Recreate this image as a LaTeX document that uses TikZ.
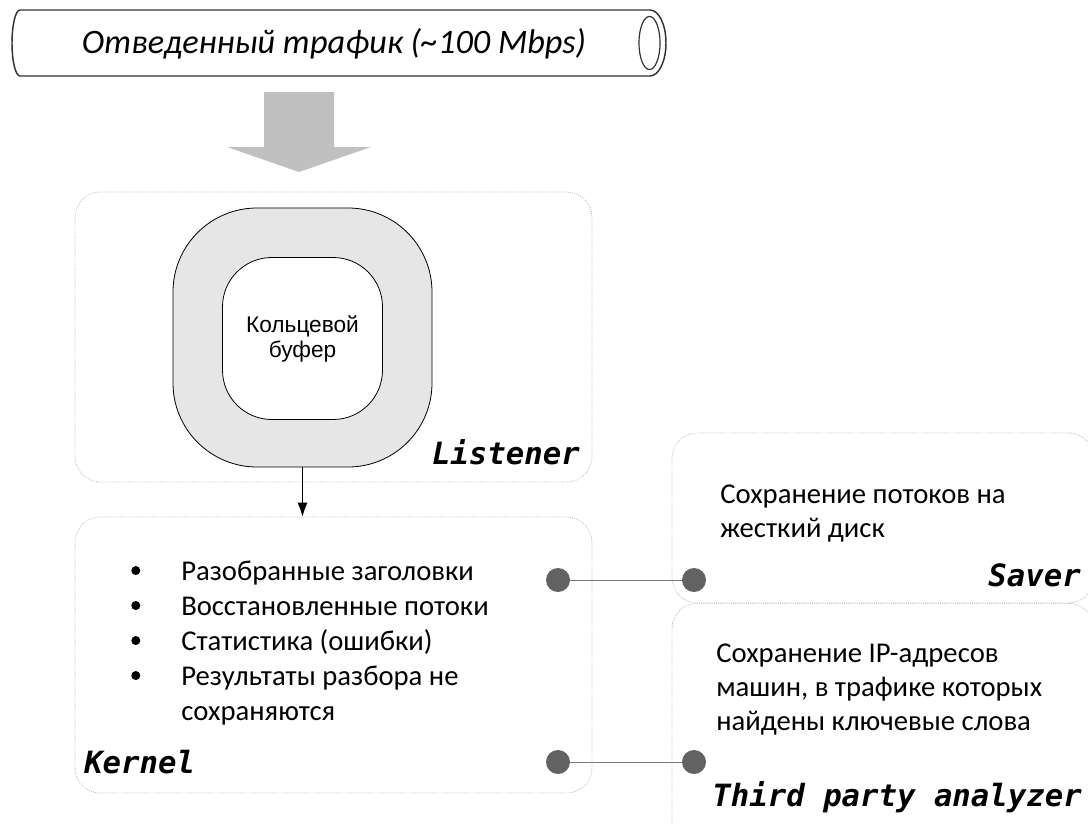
\documentclass[tikz,border=0pt]{standalone}
\usepackage{fontspec}
\setmainfont{Carlito}
\newfontfamily\codefont{DejaVu Sans Mono}
\newfontfamily\arialfont{Liberation Sans}
\usetikzlibrary{arrows.meta}

\definecolor{ringfill}{HTML}{E6E6E6}
\definecolor{bigarrow}{HTML}{C0C0C0}
\definecolor{panelline}{HTML}{B4B4B4}
\definecolor{dotgray}{HTML}{626262}
\definecolor{linkgray}{HTML}{7A7A7A}
\definecolor{pipeline}{HTML}{333333}

% list bullet: a small filled disc
\newcommand{\listdot}{\makebox[37.5pt][l]{\tikz[baseline=-0.33em]\fill (0,0) circle[radius=3.4pt];}}

\tikzset{
  panel/.style={draw=panelline, densely dotted, line width=0.6pt,
    rounded corners=19pt, inner sep=0pt},
  modname/.style={font=\fontsize{23}{27}\selectfont\codefont\bfseries\itshape,
    inner sep=0pt},
  body/.style={font=\fontsize{21.5}{25.5}\selectfont, inner sep=0pt, align=left},
  dot/.style={circle, fill=dotgray, minimum size=18pt, inner sep=0pt},
  link/.style={draw=linkgray, line width=0.75pt},
}

\begin{document}
\begin{tikzpicture}[x=0.75pt, y=-0.75pt]
\useasboundingbox (0,0) rectangle (1088,824);

% traffic pipe
\draw[pipeline, line width=1.1pt]
  (20,10) -- (650,10)
  arc[start angle=90, end angle=-90, x radius=12pt, y radius=24.75pt]
  -- (20,76)
  arc[start angle=270, end angle=90, x radius=6pt, y radius=24.75pt]
  -- cycle;
\draw[pipeline, line width=0.9pt] (649.5,43) ellipse[x radius=7.9pt, y radius=19.9pt];
\node[inner sep=0pt, font=\fontsize{25.7}{30}\selectfont\itshape] (traffic) at (334,44)
  {Отведенный трафик (\textasciitilde100 Mbps)};

% wide arrow into the listener
\fill[bigarrow] (264,92) -- (334,92) -- (334,147) -- (371,147) -- (299,172)
  -- (227,147) -- (264,147) -- cycle;

% panels
\node[panel, minimum width=387.75pt, minimum height=217.5pt] (listener) at (333.5,337) {};
\node[panel, minimum width=387.75pt, minimum height=207pt] (kernel) at (333.5,655) {};
\node[panel, minimum width=316.5pt, minimum height=127.5pt] (saver) at (883,518) {};
\node[panel, minimum width=316.5pt, minimum height=190pt] (third) at (883,730) {};

% ring buffer
\node[draw, fill=ringfill, line width=0.6pt, rounded corners=63pt,
  minimum width=194.25pt, minimum height=194.25pt, inner sep=0pt] (ring) at (302.5,337.5) {};
\node[draw, fill=white, line width=0.6pt, rounded corners=37pt,
  minimum width=120pt, minimum height=121.5pt, inner sep=0pt, align=center,
  font=\fontsize{17}{18.75}\selectfont\arialfont] (buf) at (302.5,338.5)
  {Кольцевой\\буфер};

\draw[line width=0.6pt, -{Latex[length=10.5pt, width=7.5pt]}]
  (ring.south) -- (ring.south |- kernel.north);

% module names
\node[modname, anchor=east] (lname) at (580,452) {Listener};
\node[modname, anchor=west] (kname) at (84,762) {Kernel};
\node[modname, anchor=east] (sname) at (1081,575) {Saver};
\node[modname, anchor=east] (tname) at (1082,797) {Third party analyzer};

% kernel output list
\node[body, anchor=base west, font=\fontsize{21.5}{26.25}\selectfont] (klist) at (131,580)
  {\begin{tabular}[t]{@{}l@{}l@{}}
   \listdot & Разобранные заголовки\\
   \listdot & Восстановленные потоки\\
   \listdot & Статистика (ошибки)\\
   \listdot & Результаты разбора не\\
            & сохраняются
   \end{tabular}};

% consumer descriptions (anchored at the baseline of the last line)
\node[body, anchor=base west] (stext) at (720,537)
  {Сохранение потоков на\\жесткий диск};
\node[body, anchor=base west] (ttext) at (716,730)
  {Сохранение IP-адресов\\машин, в трафике которых\\найдены ключевые слова};

% connectors between kernel and consumers
\node[dot] (k1) at (558,580) {};
\node[dot] (s1) at (694,580) {};
\node[dot] (k2) at (558,762) {};
\node[dot] (t1) at (694,762) {};
\draw[link] (k1) -- (s1);
\draw[link] (k2) -- (t1);
\end{tikzpicture}
\end{document}
